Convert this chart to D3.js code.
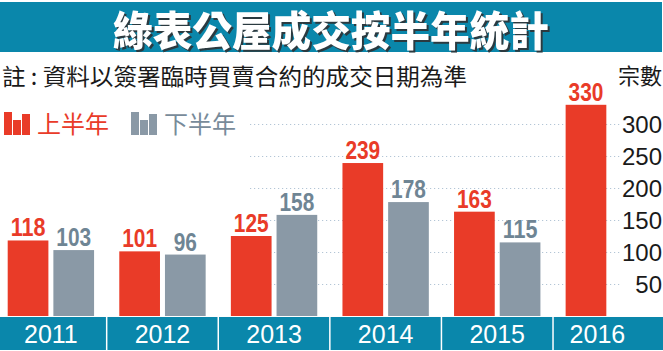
<!DOCTYPE html>
<html>
<head>
<meta charset="utf-8">
<script src="https://cdn.jsdelivr.net/npm/d3@7"></script>
<style>
    body { margin: 0; background: #fff; }
    svg { display: block; }
</style>
</head>
<body>
<svg id="chart" width="663" height="351"></svg>
<script>
let years = ['2011', '2012', '2013', '2014', '2015', '2016']
let firstHalf = [118, 101, 125, 239, 163, 330]
let secondHalf = [103, 96, 158, 178, 115, null]
let yTicks = [50, 100, 150, 200, 250, 300]
let seriesNames = ['上半年', '下半年']

function main() {
    let svg = d3.select('#chart'),
        margin = {left: 7.7, right: 11, top: 104.8, bottom: 316},
        teal = '#0a87ab',
        red = '#e93b28',
        grey = '#8a99a6',
        greyText = '#6f8594',
        cjk = '"Noto Sans CJK TC", "Noto Sans CJK SC", sans-serif'

    let xScale = d3.scaleBand().domain(years).range([margin.left, 663 - margin.right]).paddingInner(0.226),
        xInner = d3.scaleBand().domain(['h1', 'h2']).range([0, xScale.bandwidth()]).paddingInner(0.109),
        yScale = d3.scaleLinear().domain([0, 330]).range([margin.bottom, margin.top])

    // title bar
    svg.append('rect')
        .attr('x', 0).attr('y', 2).attr('width', 662).attr('height', 50)
        .attr('fill', teal)
    svg.append('text')
        .attr('x', 113).attr('y', 46)
        .attr('textLength', 436)
        .attr('lengthAdjust', 'spacingAndGlyphs')
        .attr('font-family', cjk).attr('font-weight', 900).attr('font-size', 41)
        .attr('fill', '#fff')
        .style('filter', 'drop-shadow(2px 2px 0 #2b3a40)')
        .text('綠表公屋成交按半年統計')

    // note + unit
    svg.append('text')
        .attr('x', 2).attr('y', 85)
        .attr('textLength', 465)
        .attr('lengthAdjust', 'spacingAndGlyphs')
        .attr('font-family', cjk).attr('font-size', 23).attr('fill', '#1a1a1a')
        .text('註 : 資料以簽署臨時買賣合約的成交日期為準')
    svg.append('text')
        .attr('x', 662).attr('y', 84)
        .attr('text-anchor', 'end')
        .attr('font-family', cjk).attr('font-size', 22).attr('fill', '#1a1a1a')
        .text('宗數')

    // legend
    let legend = svg.append('g')
    let legendItems = [
        {name: seriesNames[0], color: red, text: red, x: 4},
        {name: seriesNames[1], color: grey, text: '#788b9a', x: 131}
    ]
    legendItems.forEach(item => {
        let g = legend.append('g').attr('transform', 'translate(' + item.x + ',0)')
        let icon = [[0, 112], [9, 120], [18, 114]]
        icon.forEach(b => {
            g.append('rect')
                .attr('x', b[0]).attr('y', b[1])
                .attr('width', 8).attr('height', 135 - b[1])
                .attr('fill', item.color)
        })
        g.append('text')
            .attr('x', 33).attr('y', 133)
            .attr('font-family', cjk).attr('font-size', 24).attr('fill', item.text)
            .text(item.name)
    })

    // grid
    svg.append('g')
        .selectAll('line')
        .data(yTicks)
        .enter()
        .append('line')
        .attr('x1', 250).attr('x2', 620)
        .attr('y1', d => Math.round(yScale(d)) + 0.5)
        .attr('y2', d => Math.round(yScale(d)) + 0.5)
        .attr('stroke', '#b3c5d6')
        .attr('stroke-width', 1.2)
        .attr('stroke-dasharray', '1.2,2.8')

    // y tick labels
    svg.append('g')
        .selectAll('text')
        .data(yTicks)
        .enter()
        .append('text')
        .attr('x', 662)
        .attr('y', d => yScale(d) + 8.5)
        .attr('text-anchor', 'end')
        .attr('font-family', '"Liberation Sans", Arial, sans-serif')
        .attr('font-size', 24)
        .attr('fill', '#1a1a1a')
        .text(d => d)

    let data = years.map((y, i) => ({year: y, h1: firstHalf[i], h2: secondHalf[i]}))
    let bars = []
    data.forEach(d => {
        bars.push({year: d.year, key: 'h1', value: d.h1})
        if (d.h2 != null) bars.push({year: d.year, key: 'h2', value: d.h2})
    })

    svg.append('g')
        .selectAll('rect')
        .data(bars)
        .enter()
        .append('rect')
        .attr('x', d => xScale(d.year) + xInner(d.key))
        .attr('y', d => yScale(d.value))
        .attr('width', xInner.bandwidth())
        .attr('height', d => yScale(0) - yScale(d.value))
        .attr('fill', d => d.key === 'h1' ? red : grey)

    // narrow bold labels: squeeze Liberation Sans Bold to a condensed width
    svg.append('g')
        .selectAll('text')
        .data(bars)
        .enter()
        .append('text')
        .attr('x', d => xScale(d.year) + xInner(d.key) + xInner.bandwidth() / 2)
        .attr('y', d => yScale(d.value) - 4)
        .attr('text-anchor', 'middle')
        .attr('textLength', d => String(d.value).length * 11.6)
        .attr('lengthAdjust', 'spacingAndGlyphs')
        .attr('font-family', '"Liberation Sans", Arial, sans-serif')
        .attr('font-weight', 'bold')
        .attr('font-size', 25)
        .attr('fill', d => d.key === 'h1' ? red : greyText)
        .text(d => d.value)

    // year band
    svg.append('rect')
        .attr('x', 0).attr('y', 317).attr('width', 663).attr('height', 33)
        .attr('fill', teal)
    let gap = xScale.step() - xScale.bandwidth()
    svg.append('g')
        .selectAll('line')
        .data(years.slice(0, -1))
        .enter()
        .append('line')
        .attr('x1', d => xScale(d) + xScale.bandwidth() + gap / 2)
        .attr('x2', d => xScale(d) + xScale.bandwidth() + gap / 2)
        .attr('y1', 317).attr('y2', 350)
        .attr('stroke', '#fff').attr('stroke-width', 1.5)

    svg.append('g')
        .selectAll('text')
        .data(data)
        .enter()
        .append('text')
        .attr('x', d => {
            let mid = xScale(d.year) + xScale.bandwidth() / 2
            // single-bar year: label sits between the bar and the slot centre
            if (d.h2 == null) mid = (mid + xScale(d.year) + xInner('h1') + xInner.bandwidth() / 2) / 2
            return mid
        })
        .attr('y', 343)
        .attr('text-anchor', 'middle')
        .attr('font-family', '"Liberation Sans", Arial, sans-serif')
        .attr('font-size', 25)
        .attr('fill', '#fff')
        .text(d => d.year)
}

main()
</script>
</body>
</html>
